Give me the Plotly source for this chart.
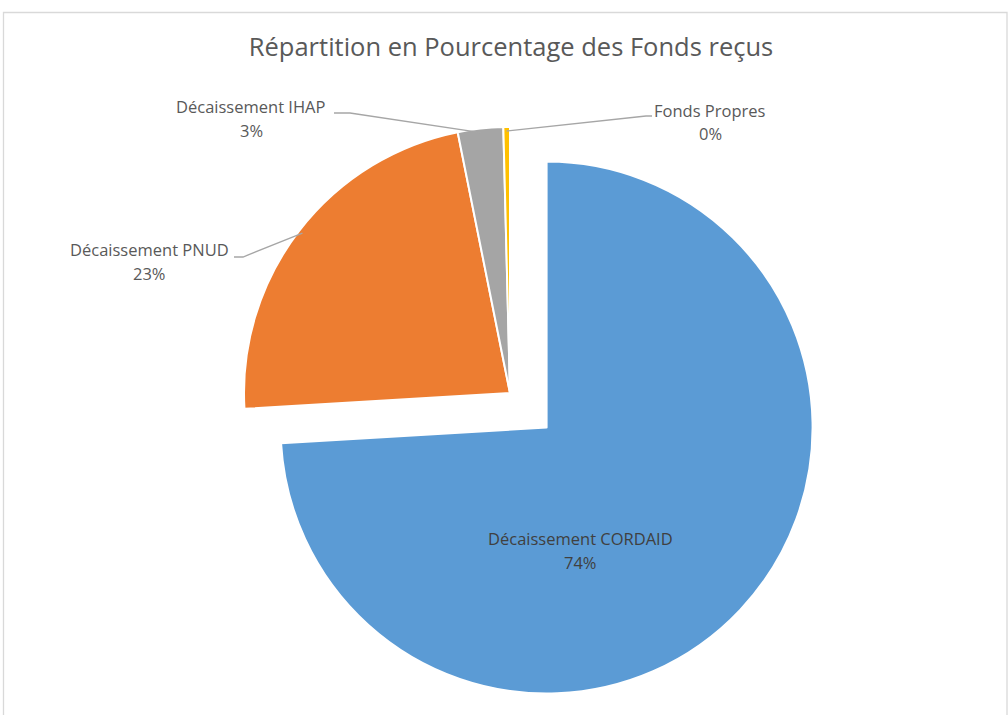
import math
import plotly.graph_objects as go

# ---- data ----
labels = ["Décaissement CORDAID", "Décaissement PNUD", "Décaissement IHAP", "Fonds Propres"]
values = [74.05, 22.8, 2.75, 0.4]
colors = ["#5B9BD5", "#ED7D31", "#A5A5A5", "#FFC000"]
pulls = [0.189, 0, 0, 0]
title_text = "Répartition en Pourcentage des Fonds reçus"

# ---- layout geometry (pixels) ----
W, H = 1008, 715
CX, CY, R = 510, 393, 266          # pie centre / radius of the non-pulled slices
box = 2 * R * (1 + max(pulls))

def px(x):
    return x / W

def py(y):
    return 1 - y / H

dom_x = [px(CX - box / 2), px(CX + box / 2)]
dom_y = [py(CY + box / 2), py(CY - box / 2)]

fig = go.Figure(go.Pie(
    labels=labels, values=values, sort=False, direction="clockwise", rotation=0,
    pull=pulls, marker=dict(colors=colors, line=dict(color="white", width=2)),
    textinfo="none", hoverinfo="label+percent", domain=dict(x=dom_x, y=dom_y),
    showlegend=False,
))

# angle of each slice midpoint, from data
total = sum(values)
mids = []
cum = 0
for v in values:
    mids.append((cum + v / 2) / total * 360)
    cum += v

def edge_point(i, frac=0.985):
    a = math.radians(mids[i])
    return CX + R * frac * math.sin(a), CY - R * frac * math.cos(a)

pct = [f"{round(v / total * 100)}%" for v in values]

# label placements (pixels): centre x, name y, percent y, elbow points (label side first)
placements = {
    0: dict(x=580, y1=538, y2=562, line=None, color="#404040"),
    1: dict(x=149, y1=250, y2=273, line=[(234, 257), (243, 257)], color="#595959"),
    2: dict(x=251, y1=107, y2=130, line=[(334, 113), (350, 113)], color="#595959"),
    3: dict(x=710, y1=111, y2=134, line=[(652, 116), (646, 116)], color="#595959"),
}

FONT = "'Open Sans', Lato, sans-serif"
shapes = []
annotations = []
for i, p in placements.items():
    f = dict(family=FONT, size=16.5, color=p["color"])
    annotations.append(dict(x=px(p["x"]), y=py(p["y1"]), xref="paper", yref="paper",
                            text=labels[i], showarrow=False, font=f,
                            xanchor="center", yanchor="middle"))
    annotations.append(dict(x=px(p["x"]), y=py(p["y2"]), xref="paper", yref="paper",
                            text=pct[i], showarrow=False, font=f,
                            xanchor="center", yanchor="middle"))
    if p["line"]:
        pts = p["line"] + [edge_point(i)]
        path = "M " + " L ".join(f"{px(x)},{py(y)}" for x, y in pts)
        shapes.append(dict(type="path", path=path, xref="paper", yref="paper",
                           line=dict(color="#A6A6A6", width=1.3)))

# chart-area border
shapes.append(dict(type="rect", xref="paper", yref="paper",
                   x0=px(3.5), x1=px(1007), y0=py(H + 5), y1=py(12.5),
                   line=dict(color="#D9D9D9", width=1.3), fillcolor="rgba(0,0,0,0)"))

fig.update_layout(
    width=W, height=H, margin=dict(l=0, r=0, t=0, b=0),
    paper_bgcolor="white", plot_bgcolor="white",
    title=dict(text=title_text, x=px(511), xanchor="center", y=py(47), yanchor="middle",
               yref="container", xref="container",
               font=dict(family=FONT, size=25.5, color="#595959")),
    shapes=shapes, annotations=annotations,
)

fig.write_html(
    "out.html",
    config={"displayModeBar": False},
    post_script="document.body.style.margin='0px';document.body.style.overflow='hidden';",
)
